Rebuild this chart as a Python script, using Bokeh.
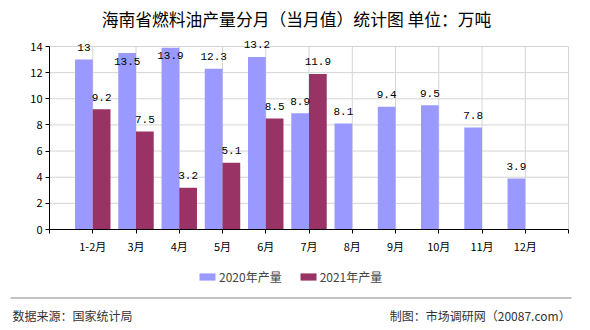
from bokeh.plotting import figure
from bokeh.models import (Range1d, FixedTicker, Label, Legend, LegendItem,
                          BoxAnnotation, ColumnDataSource)
from bokeh.core.properties import value
from bokeh.embed import file_html
from bokeh.resources import INLINE

# ---- data ----
months = ["1-2月", "3月", "4月", "5月", "6月", "7月", "8月", "9月", "10月", "11月", "12月"]
v2020 = [13, 13.5, 13.9, 12.3, 13.2, 8.9, 8.1, 9.4, 9.5, 7.8, 3.9]
v2021 = [9.2, 7.5, 3.2, 5.1, 8.5, 11.9]
series_names = ["2020年产量", "2021年产量"]
y_ticks = [0, 2, 4, 6, 8, 10, 12, 14]
title_text = "海南省燃料油产量分月（当月值）统计图 单位：万吨"
source_text = "数据来源：国家统计局"
maker_text = "制图：市场调研网（20087.com）"

colors = ["#9999FF", "#993366"]
CJK = "Noto Sans CJK SC"
MONO = "Liberation Mono"

# ---- layout (pixels) ----
W, H = 590, 330
PL, PR, PT, PB = 49, 568, 46, 229      # plot-area box on the canvas
ncat = len(months)
xmax = ncat + 1
ymax = 14
xpu = (PR - PL) / xmax
ypu = (PB - PT) / ymax

x_range = Range1d(-PL / xpu, xmax + (W - PR) / xpu)
y_range = Range1d(-(H - PB) / ypu, ymax + PT / ypu)

p = figure(width=W, height=H, output_backend="svg", toolbar_location=None,
           x_range=x_range, y_range=y_range, title=None, min_border=0,
           background_fill_color="white", border_fill_color="white")
p.outline_line_color = None
p.xgrid.visible = False
p.ygrid.visible = False

# grid lines limited to the plot area
gx = list(range(1, xmax + 1))
p.segment(x0=gx, x1=gx, y0=[0] * len(gx), y1=[ymax] * len(gx),
          line_color="#d4d4d4", line_width=1)
gy = y_ticks[1:]
p.segment(x0=[0] * len(gy), x1=[xmax] * len(gy), y0=gy, y1=gy,
          line_color="#d4d4d4", line_width=1)

# bars
bw = 0.41
idx = list(range(1, ncat + 1))
x20 = [i - bw / 2 for i in idx]
x21 = [i + bw / 2 for i in idx[:len(v2021)]]
r20 = p.vbar(x=x20, top=v2020, width=bw, fill_color=colors[0], line_color=None)
r21 = p.vbar(x=x21, top=v2021, width=bw, fill_color=colors[1], line_color=None)


def label_offsets(vals):
    offs = []
    for v in vals:
        above = v * ypu + 12
        offs.append(8 if above > ymax * ypu + 2 else -12)
    return offs


for xs, vals in ((x20, v2020), (x21, v2021)):
    src = ColumnDataSource(dict(x=xs, y=vals, t=[("%g" % v) for v in vals],
                                off=label_offsets(vals)))
    p.text(x="x", y="y", text="t", y_offset="off", source=src,
           text_align="center", text_baseline="middle",
           text_font=value(MONO), text_font_size="11px", text_color="black")

# axes drawn at fixed positions inside the canvas
p.xaxis.fixed_location = 0
p.yaxis.fixed_location = 0
p.xaxis.bounds = (0, xmax)
p.yaxis.bounds = (0, ymax)
p.yaxis.ticker = FixedTicker(ticks=y_ticks)
p.xaxis.ticker = FixedTicker(ticks=list(range(0, xmax + 1)))
ovr = {i: m for i, m in zip(idx, months)}
ovr.update({0: "", xmax: ""})
p.xaxis.major_label_overrides = ovr
for ax in (p.xaxis, p.yaxis):
    ax.axis_line_color = "black"
    ax.axis_line_width = 1
    ax.major_tick_line_color = "black"
    ax.major_tick_in = 0
    ax.major_tick_out = 4
    ax.minor_tick_line_color = None
    ax.major_label_text_font = CJK
    ax.major_label_text_font_size = "11px"
    ax.major_label_text_color = "black"
    ax.major_label_standoff = 3
p.xaxis.major_label_standoff = 4

# title
p.add_layout(Label(x=296, y=H - 18, x_units="screen", y_units="screen",
                   text=title_text, text_align="center", text_baseline="middle",
                   text_font=CJK, text_font_size="16.8px", text_color="black"))

# legend
legend = Legend(items=[LegendItem(label=series_names[0], renderers=[r20]),
                       LegendItem(label=series_names[1], renderers=[r21])],
                orientation="horizontal", location=(197, H - 285),
                glyph_width=20, glyph_height=9, label_height=12,
                label_text_font=CJK, label_text_font_size="12px",
                label_standoff=2, spacing=16, padding=0, margin=0,
                border_line_color=None, background_fill_alpha=0)
p.add_layout(legend, "center")

# footer rule and texts
p.add_layout(BoxAnnotation(left=10, right=571, bottom=H - 298, top=H - 297,
                           left_units="screen", right_units="screen",
                           bottom_units="screen", top_units="screen",
                           fill_color="#888888", fill_alpha=1, line_color=None))
p.add_layout(Label(x=12, y=H - 315, x_units="screen", y_units="screen",
                   text=source_text, text_align="left", text_baseline="middle",
                   text_font=CJK, text_font_size="12px", text_color="#333333"))
p.add_layout(Label(x=570, y=H - 315, x_units="screen", y_units="screen",
                   text=maker_text, text_align="right", text_baseline="middle",
                   text_font=CJK, text_font_size="12px", text_color="#333333"))

open("out.html", "w").write(file_html(p, INLINE))
